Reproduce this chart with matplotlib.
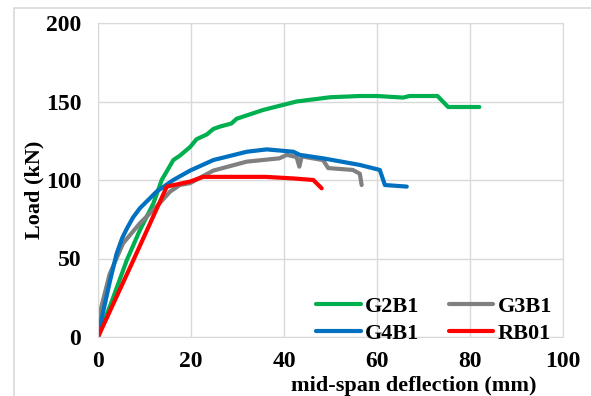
import matplotlib.pyplot as plt
from matplotlib.patches import Rectangle

# load-deflection curves
g2b1_x = [0, 3, 6.2, 9, 11.9, 13.7, 16.2, 17.6, 19.8, 21.2, 23.4, 24.8, 26.2, 28.7, 29.8, 35.5, 42.7, 49.9, 56.3, 60, 65.6, 67, 73, 75.3, 82]
g2b1_y = [0, 23, 49, 68, 85, 100, 112.7, 115.5, 121, 126, 129, 132.5, 134, 136, 139, 144.6, 150, 152.7, 153.5, 153.5, 152.5, 153.5, 153.5, 146.5, 146.5]

g3b1_x = [0, 2.5, 5.4, 9, 12.6, 15.5, 17.6, 19.8, 24.8, 32, 39, 40.6, 42.7, 43.3, 43.8, 48.4, 49.5, 54.8, 56.3, 56.7]
g3b1_y = [10.8, 40, 59.7, 72.4, 83, 92.6, 96.8, 98, 106, 111.7, 113.8, 116, 114.6, 108.5, 115, 112.7, 107.6, 106.4, 104, 96.8]

g4b1_x = [0, 0.4, 2.6, 4, 5.2, 6.2, 7.5, 9, 12.6, 16.2, 19.8, 24.8, 32, 36.3, 42, 43.4, 48.4, 56.3, 60.6, 61.7, 66.4]
g4b1_y = [4, 6.6, 36, 53, 63, 69, 76, 82, 92.6, 100, 106, 112.7, 118, 119.5, 118, 116, 113.8, 109.6, 106.4, 96.8, 95.8]

rb01_x = [0, 7, 14.8, 19.8, 22.6, 29, 36, 42, 46.3, 48.1]
rb01_y = [0, 45, 95.8, 99, 102, 102, 102, 101, 100, 94.7]

plt.rcParams['font.family'] = 'Liberation Serif'
plt.rcParams['font.weight'] = 'bold'

fig = plt.figure(figsize=(5.91, 3.96), dpi=100)
ax = fig.add_axes([98 / 591, 1 - 337 / 396, 465 / 591, 314 / 396])

# chart-area border
fig.patches.append(Rectangle((14 / 591, -0.05), 1.0, 1 - 8 / 396 + 0.05, transform=fig.transFigure,
                             fill=False, edgecolor='#d9d9d9', linewidth=1.2))

l_g2, = ax.plot(g2b1_x, g2b1_y, color='#00b050', lw=3, label='G2B1', solid_capstyle='round')
l_g3, = ax.plot(g3b1_x, g3b1_y, color='#808080', lw=3, label='G3B1', solid_capstyle='round')
l_g4, = ax.plot(g4b1_x, g4b1_y, color='#0070c0', lw=3, label='G4B1', solid_capstyle='round')
l_rb, = ax.plot(rb01_x, rb01_y, color='#ff0000', lw=3, label='RB01', solid_capstyle='round')

ax.set_xlim(0, 100)
ax.set_ylim(0, 200)
ax.set_xticks(range(0, 101, 20))
ax.set_yticks(range(0, 201, 50))
ax.grid(True, color='#d9d9d9', linewidth=1)
ax.set_axisbelow(True)
for s in ax.spines.values():
    s.set_color('#d9d9d9')
ax.tick_params(length=0, labelsize=17)
ax.tick_params(axis='y', pad=12)
ax.tick_params(axis='x', pad=10)

ax.set_ylabel('Load (kN)', fontsize=16, fontweight='bold')
ax.yaxis.set_label_coords(-0.115, 0.47)
ax.set_xlabel('mid-span deflection (mm)', fontsize=16, fontweight='bold')
ax.xaxis.set_label_coords(0.68, -0.124)

# column-wise fill, so order handles to read G2B1 G3B1 / G4B1 RB01 by rows
ax.legend([l_g2, l_g4, l_g3, l_rb], ['G2B1', 'G4B1', 'G3B1', 'RB01'],
          ncol=2, loc='lower right', frameon=False, fontsize=16,
          handlelength=2.0, columnspacing=1.3, handletextpad=0.2,
          labelspacing=0.3, borderaxespad=0.0, bbox_to_anchor=(0.995, -0.05))

fig.savefig('out.png', dpi=100)
